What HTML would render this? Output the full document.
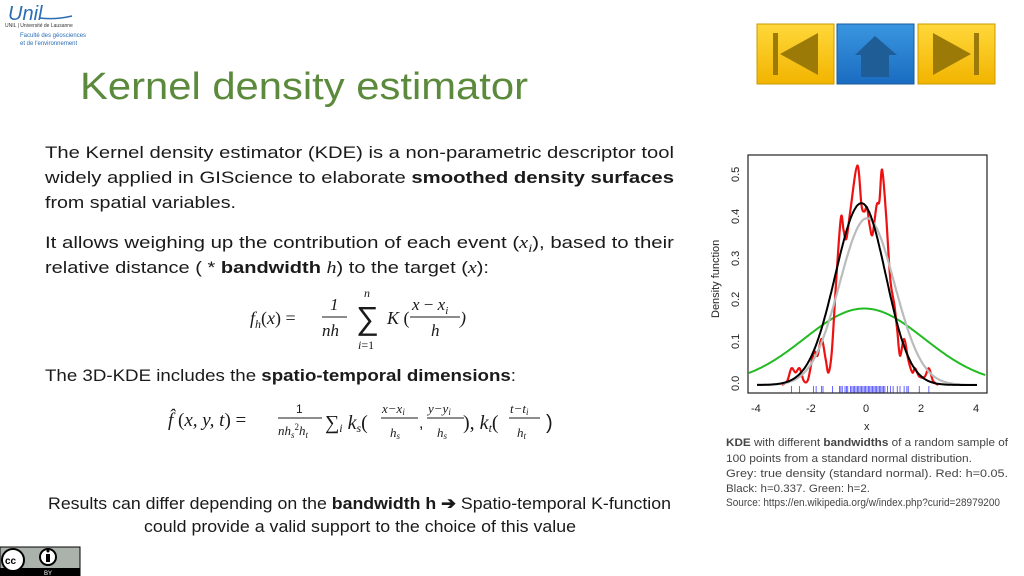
<!DOCTYPE html>
<html><head><meta charset="utf-8"><style>
html,body{margin:0;padding:0;background:#fff;}
svg{display:block;}
text{font-family:"Liberation Sans",sans-serif;}
.b{fill:#1a1a1a;font-size:17px;}
.m{font-family:"Liberation Serif",serif;font-style:italic;fill:#1a1a1a;}
.c{fill:#444;font-size:11px;}
.ax{font-size:11px;fill:#222;}
</style></head><body>
<svg id="s" width="1024" height="576" viewBox="0 0 1024 576" xmlns="http://www.w3.org/2000/svg">
<text x="8" y="20" font-family="Liberation Serif" font-style="italic" font-size="20" fill="#2a6db5">Unil</text>
<path d="M40 18 Q55 20 72 16" stroke="#2a6db5" stroke-width="1.5" fill="none"/>
<text x="5" y="27" font-size="5" fill="#333">UNIL | Université de Lausanne</text>
<text x="20" y="37" font-size="6" fill="#2a6db5">Faculté des géosciences</text>
<text x="20" y="45" font-size="6" fill="#2a6db5">et de l'environnement</text>
<defs>
<linearGradient id="y" x1="0" y1="0" x2="0" y2="1"><stop offset="0" stop-color="#ffd83a"/><stop offset="1" stop-color="#f2b400"/></linearGradient>
<linearGradient id="bl" x1="0" y1="0" x2="0" y2="1"><stop offset="0" stop-color="#3a96e0"/><stop offset="1" stop-color="#1a6cc0"/></linearGradient>
</defs>
<rect x="757" y="24" width="77" height="60" fill="url(#y)" stroke="#c99a00"/>
<rect x="773" y="33" width="5" height="42" fill="#9c7a08"/>
<polygon points="780,54 818,33 818,75" fill="#9c7a08"/>
<rect x="837" y="24" width="77" height="60" fill="url(#bl)" stroke="#1a5a9a"/>
<polygon points="855,55 875,36 897,55" fill="#1f5d96"/>
<rect x="861" y="55" width="28" height="22" fill="#1f5d96"/>
<rect x="918" y="24" width="77" height="60" fill="url(#y)" stroke="#c99a00"/>
<polygon points="971,54 933,33 933,75" fill="#9c7a08"/>
<rect x="974" y="33" width="5" height="42" fill="#9c7a08"/>
<text x="80" y="99" font-size="38" fill="#5b8a3c" textLength="448" lengthAdjust="spacingAndGlyphs">Kernel density estimator</text>
<text class="b" x="45" y="158" textLength="629" lengthAdjust="spacingAndGlyphs">The Kernel density estimator (KDE) is a non-parametric descriptor tool</text>
<text class="b" x="45" y="183" textLength="629" lengthAdjust="spacingAndGlyphs">widely applied in GIScience to elaborate <tspan font-weight="bold">smoothed density surfaces</tspan></text>
<text class="b" x="45" y="208" textLength="191" lengthAdjust="spacingAndGlyphs">from spatial variables.</text>
<text class="b" x="45" y="248" textLength="629" lengthAdjust="spacingAndGlyphs">It allows weighing up the contribution of each event (<tspan class="m">x<tspan font-size="12" dy="4">i</tspan></tspan><tspan dy="-4">), based to their</tspan></text>
<text class="b" x="45" y="273" textLength="444" lengthAdjust="spacingAndGlyphs">relative distance ( * <tspan font-weight="bold">bandwidth</tspan> <tspan class="m">h</tspan>) to the target (<tspan class="m">x</tspan>):</text>
<text class="m" x="250" y="324" font-size="18">f<tspan font-size="12" dy="4">h</tspan><tspan dy="-4" font-style="normal">(</tspan>x<tspan font-style="normal">) =</tspan></text>
<text class="m" x="330" y="310" font-size="17" font-style="normal">1</text>
<line x1="322" y1="317" x2="347" y2="317" stroke="#1a1a1a"/>
<text class="m" x="322" y="336" font-size="17">nh</text>
<text class="m" x="364" y="297" font-size="12">n</text>
<text x="356" y="329" font-size="32" font-family="Liberation Serif" fill="#1a1a1a">∑</text>
<text class="m" x="358" y="349" font-size="12">i<tspan font-style="normal">=1</tspan></text>
<text class="m" x="387" y="324" font-size="18">K <tspan font-style="normal">(</tspan></text>
<text class="m" x="412" y="310" font-size="17">x <tspan font-style="normal">−</tspan> x<tspan font-size="11" dy="4">i</tspan></text>
<line x1="410" y1="317" x2="460" y2="317" stroke="#1a1a1a"/>
<text class="m" x="431" y="336" font-size="17">h</text>
<text class="m" x="460" y="324" font-size="18" font-style="normal">)</text>
<text class="b" x="45" y="381" textLength="471" lengthAdjust="spacingAndGlyphs">The 3D-KDE includes the <tspan font-weight="bold">spatio-temporal dimensions</tspan>:</text>
<text class="m" x="168" y="426" font-size="19">f̂<tspan font-style="normal"> (</tspan>x, y, t<tspan font-style="normal">) =</tspan></text>
<text x="296" y="413" font-size="12" fill="#1a1a1a">1</text>
<line x1="278" y1="418" x2="322" y2="418" stroke="#1a1a1a"/>
<text class="m" x="278" y="435" font-size="13">nh<tspan font-size="9" dy="3">s</tspan><tspan font-size="9" dy="-8" font-style="normal">2</tspan><tspan dy="5">h</tspan><tspan font-size="9" dy="3">t</tspan></text>
<text class="m" x="325" y="429" font-size="20"><tspan font-style="normal">∑</tspan><tspan font-size="12" dy="3">i</tspan><tspan dy="-3"> k</tspan><tspan font-size="12" dy="3">s</tspan><tspan dy="-3" font-style="normal">(</tspan></text>
<text class="m" x="382" y="413" font-size="13">x−x<tspan font-size="9" dy="2">i</tspan></text>
<line x1="381" y1="418" x2="418" y2="418" stroke="#1a1a1a"/>
<text class="m" x="390" y="437" font-size="13">h<tspan font-size="9" dy="2">s</tspan></text>
<text x="419" y="428" font-size="16" fill="#1a1a1a">,</text>
<text class="m" x="428" y="413" font-size="13">y−y<tspan font-size="9" dy="2">i</tspan></text>
<line x1="427" y1="418" x2="464" y2="418" stroke="#1a1a1a"/>
<text class="m" x="437" y="437" font-size="13">h<tspan font-size="9" dy="2">s</tspan></text>
<text class="m" x="463" y="429" font-size="20"><tspan font-style="normal">), </tspan>k<tspan font-size="12" dy="3">t</tspan><tspan dy="-3" font-style="normal">(</tspan></text>
<text class="m" x="510" y="413" font-size="13">t−t<tspan font-size="9" dy="2">i</tspan></text>
<line x1="509" y1="418" x2="540" y2="418" stroke="#1a1a1a"/>
<text class="m" x="517" y="437" font-size="13">h<tspan font-size="9" dy="2">t</tspan></text>
<text x="546" y="429" font-size="20" fill="#1a1a1a">)</text>
<text class="b" x="48" y="509" textLength="623" lengthAdjust="spacingAndGlyphs">Results can differ depending on the <tspan font-weight="bold">bandwidth h ➔</tspan> Spatio-temporal K-function</text>
<text class="b" x="144" y="532" textLength="432" lengthAdjust="spacingAndGlyphs">could provide a valid support to the choice of this value</text>
<rect x="0" y="547" width="80" height="29" fill="#aab2ab" stroke="#000"/>
<rect x="0" y="568" width="80" height="8" fill="#000"/>
<circle cx="13" cy="560" r="11" fill="#fff" stroke="#000" stroke-width="2"/>
<text x="5" y="564" font-size="10" font-weight="bold">cc</text>
<circle cx="48" cy="557" r="8" fill="#fff" stroke="#000" stroke-width="2"/>
<rect x="46" y="554" width="4" height="8" fill="#000"/><circle cx="48" cy="551" r="1.5" fill="#000"/>
<text x="44" y="575" font-size="6" fill="#fff">BY</text>
<rect x="748" y="155" width="239" height="238" fill="none" stroke="#222" stroke-width="1.2"/>
<g id="curves"></g>
<line x1="757" y1="393" x2="977" y2="393" stroke="#222"/>
<text class="ax" x="751" y="412">-4</text><text class="ax" x="806" y="412">-2</text><text class="ax" x="863" y="412">0</text>
<text class="ax" x="918" y="412">2</text><text class="ax" x="973" y="412">4</text>
<text class="ax" x="864" y="430">x</text>
<g font-size="11" fill="#222">
<text transform="translate(739,391) rotate(-90)">0.0</text>
<text transform="translate(739,349) rotate(-90)">0.1</text>
<text transform="translate(739,307) rotate(-90)">0.2</text>
<text transform="translate(739,266) rotate(-90)">0.3</text>
<text transform="translate(739,224) rotate(-90)">0.4</text>
<text transform="translate(739,182) rotate(-90)">0.5</text>
<text transform="translate(719,318) rotate(-90)">Density function</text>
</g>
<text class="c" x="726" y="446" textLength="282" lengthAdjust="spacingAndGlyphs"><tspan font-weight="bold">KDE</tspan> with different <tspan font-weight="bold">bandwidths</tspan> of a random sample of</text>
<text class="c" x="726" y="462" textLength="246" lengthAdjust="spacingAndGlyphs">100 points from a standard normal distribution.</text>
<text class="c" x="726" y="477" textLength="282" lengthAdjust="spacingAndGlyphs">Grey: true density (standard normal). Red: h=0.05.</text>
<text class="c" x="726" y="492" textLength="144" lengthAdjust="spacingAndGlyphs">Black: h=0.337. Green: h=2.</text>
<text class="c" x="726" y="506" font-size="9" textLength="274" lengthAdjust="spacingAndGlyphs">Source: https://en.wikipedia.org/w/index.php?curid=28979200</text>
</svg>
<script>
(function(){
var g=document.getElementById('curves');var NS='http://www.w3.org/2000/svg';
function X(x){return 867+x*27.5;}function Y(y){return 385-y*418;}
function gs(x,m,s){return Math.exp(-(x-m)*(x-m)/(2*s*s));}
function add(d,col,w){var p=document.createElementNS(NS,'path');p.setAttribute('d',d);p.setAttribute('stroke',col);p.setAttribute('stroke-width',w);p.setAttribute('fill','none');p.setAttribute('stroke-linejoin','round');g.appendChild(p);}
function path(f,a,b,col,w){var d='';for(var i=0;i<=400;i++){var x=a+(b-a)*i/400;var y=f(x);d+=(i?'L':'M')+X(x).toFixed(1)+' '+Y(y).toFixed(1);}add(d,col,w);}
function smooth(pts,col,w){var P=pts.map(function(p){return [X(p[0]),Y(p[1])];});var d='M'+P[0][0]+' '+P[0][1];
for(var i=0;i<P.length-1;i++){var p0=P[Math.max(0,i-1)],p1=P[i],p2=P[i+1],p3=P[Math.min(P.length-1,i+2)];
var c1x=p1[0]+(p2[0]-p0[0])/6,c1y=p1[1]+(p2[1]-p0[1])/6,c2x=p2[0]-(p3[0]-p1[0])/6,c2y=p2[1]-(p3[1]-p1[1])/6;
d+='C'+c1x.toFixed(1)+' '+c1y.toFixed(1)+' '+c2x.toFixed(1)+' '+c2y.toFixed(1)+' '+p2[0].toFixed(1)+' '+p2[1].toFixed(1);}add(d,col,w);}
var xs=[-2.75,-2.45,-1.95,-1.85,-1.65,-1.6,-1.25,-1.0,-0.95,-0.9,-0.8,-0.75,-0.7,-0.6,-0.55,-0.5,-0.45,-0.4,-0.35,-0.3,-0.25,-0.2,-0.15,-0.1,-0.05,0,0.05,0.1,0.15,0.2,0.25,0.3,0.35,0.4,0.45,0.5,0.55,0.6,0.65,0.75,0.85,0.95,1.1,1.2,1.35,1.45,1.5,1.9,2.25];
xs.forEach(function(x){var l=document.createElementNS(NS,'line');l.setAttribute('x1',X(x));l.setAttribute('x2',X(x));l.setAttribute('y1',386);l.setAttribute('y2',393);l.setAttribute('stroke','#4040ff');l.setAttribute('stroke-width','0.8');g.appendChild(l);});
path(function(x){return 0.183*gs(x,-0.1,2.18);},-4.3,4.3,'#22bb22',2);
smooth([[-3.1,0],[-2.9,0.01],[-2.75,0.04],[-2.6,0.03],[-2.45,0.04],[-2.3,0.01],[-2.15,0.012],[-2.0,0.06],[-1.9,0.08],[-1.8,0.07],[-1.65,0.11],[-1.5,0.06],[-1.4,0.03],[-1.28,0.08],[-1.12,0.25],[-0.95,0.4],[-0.85,0.37],[-0.75,0.35],[-0.6,0.42],[-0.35,0.525],[-0.2,0.43],[-0.1,0.415],[0,0.425],[0.1,0.38],[0.2,0.36],[0.35,0.43],[0.45,0.44],[0.55,0.515],[0.7,0.4],[0.85,0.25],[1.0,0.19],[1.1,0.13],[1.2,0.07],[1.35,0.11],[1.5,0.06],[1.65,0.03],[1.75,0.04],[1.9,0.02],[2.1,0.02],[2.25,0.04],[2.4,0.01],[2.6,0]],'#ee1111',2.2);
path(function(x){return 0.399*gs(x,0,1);},-4,4,'#bbbbbb',2.2);
path(function(x){return 0.435*gs(x,-0.2,(x<-0.2?0.95:0.88));},-4,4,'#000',2);
})();
</script>
</body></html>
